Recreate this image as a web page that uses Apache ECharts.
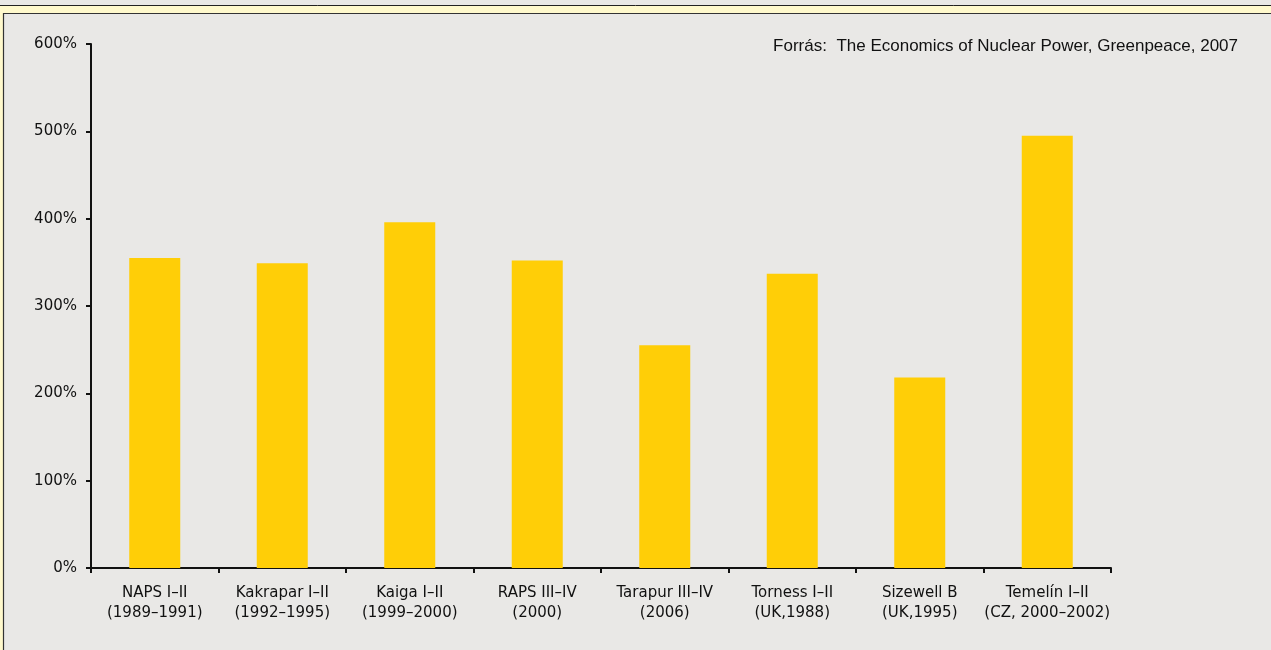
<!DOCTYPE html>
<html>
<head>
<meta charset="utf-8">
<script src="https://cdn.jsdelivr.net/npm/echarts@6/dist/echarts.min.js"></script>
<style>
html,body{margin:0;padding:0;background:#e9e8e6;}
#c{width:1271px;height:650px;}
</style>
</head>
<body>
<div id="c"></div>
<script>
const categories = [
  "NAPS I–II\n(1989–1991)",
  "Kakrapar I–II\n(1992–1995)",
  "Kaiga I–II\n(1999–2000)",
  "RAPS III–IV\n(2000)",
  "Tarapur III–IV\n(2006)",
  "Torness I–II\n(UK,1988)",
  "Sizewell B\n(UK,1995)",
  "Temelín I–II\n(CZ, 2000–2002)"
];
const values = [355, 349, 396, 352, 255, 337, 218, 495];
const yTicks = [0, 100, 200, 300, 400, 500, 600];
const sourceText = "Forrás:  The Economics of Nuclear Power, Greenpeace, 2007";

const chart = echarts.init(document.getElementById('c'), null, {renderer: 'canvas'});
chart.setOption({
  backgroundColor: '#e9e8e6',
  animation: false,
  graphic: [
    {type: 'rect', shape: {x: 0, y: 5, width: 1271, height: 8}, style: {fill: '#fff9cc', stroke: null}, z: 1},
    {type: 'rect', shape: {x: 0, y: 13, width: 3, height: 637}, style: {fill: '#fff9cc', stroke: null}, z: 1},
    {type: 'line', shape: {x1: 0, y1: 5.5, x2: 1271, y2: 5.5}, style: {stroke: '#222', lineWidth: 1}, z: 2},
    {type: 'line', shape: {x1: 3, y1: 13.5, x2: 1271, y2: 13.5}, style: {stroke: '#333', lineWidth: 1.2}, z: 2},
    {type: 'line', shape: {x1: 3.5, y1: 13, x2: 3.5, y2: 650}, style: {stroke: '#333', lineWidth: 1.2}, z: 2},
    {type: 'text', right: 33, top: 38, style: {text: sourceText, font: '17px "Liberation Sans", Arial, sans-serif', fill: '#111'}, z: 3}
  ],
  grid: {left: 91, right: 160, top: 44, bottom: 82, containLabel: false},
  xAxis: {
    type: 'category',
    data: categories,
    axisLine: {lineStyle: {color: '#111', width: 2}},
    axisTick: {show: true, length: 5, lineStyle: {color: '#111', width: 2}, alignWithLabel: false},
    axisLabel: {
      interval: 0, margin: 15, color: '#111', lineHeight: 20,
      fontFamily: '"DejaVu Sans", sans-serif', fontSize: 15
    }
  },
  yAxis: {
    type: 'value',
    min: 0, max: 600, interval: 100,
    axisLine: {show: true, lineStyle: {color: '#111', width: 2}},
    axisTick: {show: true, length: 5, lineStyle: {color: '#111', width: 2}},
    splitLine: {show: false},
    axisLabel: {
      margin: 14, color: '#111',
      fontFamily: '"DejaVu Sans", sans-serif', fontSize: 15,
      formatter: v => yTicks.includes(v) ? v + '%' : ''
    }
  },
  series: [{
    type: 'bar',
    data: values,
    barWidth: '40%',
    itemStyle: {color: '#ffce07'}
  }]
});
</script>
</body>
</html>
